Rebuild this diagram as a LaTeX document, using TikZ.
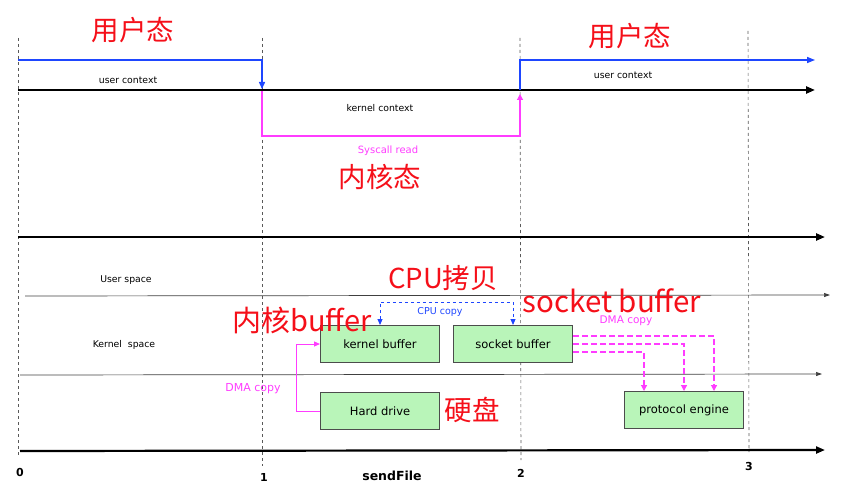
\documentclass[tikz,border=0pt]{standalone}
\usepackage{fontspec}
\setmainfont{DejaVu Sans}
\newfontfamily\cjk{Noto Sans CJK SC}
\usetikzlibrary{arrows.meta, positioning}
\definecolor{notered}{RGB}{245, 15, 25}
\definecolor{noteblue}{RGB}{30, 70, 255}
\definecolor{notemagenta}{RGB}{255, 60, 255}
\definecolor{boxgreen}{RGB}{185, 245, 185}

\begin{document}
\begin{tikzpicture}[x=1pt, y=-1pt,
        redlabel/.style={text=notered, font=\cjk\fontsize{27.5}{27.5}\selectfont},
        smalltext/.style={font=\fontsize{9.3}{9.3}\selectfont},
        timeaxis/.style={line width=2.2pt, -{Triangle[length=9pt, width=7pt]}},
        spaceaxis/.style={line width=0.7pt, black!75, -{Triangle[length=6pt, width=4pt]}},
        tickline/.style={dashed, black!65, line width=0.6pt},
        buf/.style={draw=black!70, line width=1pt, fill=boxgreen, minimum width=119pt,
            minimum height=37pt, font=\fontsize{11.5}{11.5}\selectfont}]
    \useasboundingbox (0,0) rectangle (850,497);

    % time ticks
    \coordinate (t0top) at (18,38);   \coordinate (t0bot) at (18,455);
    \coordinate (t1top) at (262,38);  \coordinate (t1bot) at (262,466);
    \coordinate (t2top) at (520,38);  \coordinate (t2bot) at (521,460);
    \coordinate (t3top) at (748,31);  \coordinate (t3bot) at (749,452);
    \foreach \t in {0,1,2,3}
        \draw[tickline] (t\t top) -- (t\t bot);
    \node[font=\bfseries\fontsize{11}{11}\selectfont] (n0) at (20,472) {0};
    \node[font=\bfseries\fontsize{11}{11}\selectfont] (n1) at (264,477) {1};
    \node[font=\bfseries\fontsize{11}{11}\selectfont] (n2) at (521,473) {2};
    \node[font=\bfseries\fontsize{11}{11}\selectfont] (n3) at (749,466) {3};
    \node[font=\bfseries\fontsize{12.5}{12.5}\selectfont] (send) at (392,476) {sendFile};

    % context switches
    \coordinate (ctxstart) at (18,90);
    \coordinate (ctxend) at (815,90);
    \draw[timeaxis] (ctxstart) -- (ctxend);
    \coordinate (ustart) at (18,60);
    \coordinate (uend) at (815,60);
    \coordinate (sys) at (262,89);
    \coordinate (ret) at (520,90);
    \draw[noteblue, line width=1.4pt, -{Triangle[length=7pt, width=6pt]}]
        (ustart) -| (sys);
    \draw[noteblue, line width=1.4pt, -{Triangle[length=8pt, width=6pt]}]
        (ret) |- (uend);
    \draw[notemagenta, line width=1.2pt, -{Triangle[length=6pt, width=6pt]}]
        (262,91) -- (262,136) -| (520,94);

    \node[smalltext] (uctx1) at (128,80) {user context};
    \node[smalltext] (uctx2) at (623,75) {user context};
    \node[smalltext] (kctx) at (380,108) {kernel context};
    \node[font=\fontsize{10}{10}\selectfont, text=notemagenta] (sysread) at (388,151) {Syscall read};
    \node[redlabel] (ustate1) at (133,30) {用户态};
    \node[redlabel] (ustate2) at (630,36) {用户态};
    \node[redlabel] (kstate) at (380,177) {内核态};

    % address spaces
    \coordinate (a1s) at (18,237);  \coordinate (a1e) at (825,237);
    \coordinate (a2s) at (25,296);  \coordinate (a2e) at (830,295);
    \coordinate (a3s) at (20,375);  \coordinate (a3e) at (822,374);
    \coordinate (a4s) at (20,451);  \coordinate (a4e) at (825,450);
    \draw[timeaxis] (a1s) -- (a1e);
    \draw[spaceaxis] (a2s) -- (a2e);
    \draw[spaceaxis] (a3s) -- (a3e);
    \draw[timeaxis] (a4s) -- (a4e);
    \node[smalltext] (uspace) at (126,280) {User space};
    \node[smalltext] (kspace) at (124,345) {Kernel\ \ space};

    % buffers
    \node[buf] (kb) at (380,344) {kernel buffer};
    \node[buf] (sb) at (513,344) {socket buffer};
    \node[buf] (hd) at (380,411) {Hard drive};
    \node[buf] (pe) at (684,410) {protocol engine};

    % DMA copy into kernel buffer
    \draw[notemagenta, line width=1pt, -{Triangle[length=6pt, width=5pt]}]
        (hd.west) -- ++(-24,0) |- (kb.west);
    \node[font=\fontsize{11}{11}\selectfont, text=notemagenta] (dma1) at (253,389) {DMA copy};

    % CPU copy
    \draw[noteblue, dashed, line width=0.9pt, {Triangle[length=6pt, width=5pt]}-{Triangle[length=6pt, width=5pt]}]
        (kb.north) -- ++(0,-23) -| (sb.north);
    \node[font=\fontsize{9.5}{9.5}\selectfont, text=noteblue] (cpu) at (440,312) {CPU copy};

    % DMA copy to protocol engine
    \foreach \dy/\dx in {8/30, 0/0, -8/-40}
        \draw[notemagenta, dash pattern=on 6pt off 3pt, line width=1.2pt, -{Triangle[length=6pt, width=6pt]}]
            ([yshift=\dy pt]sb.east) -| ([xshift=\dx pt]pe.north);
    \node[font=\fontsize{10.5}{10.5}\selectfont, text=notemagenta] (dma2) at (626,321) {DMA copy};

    % red notes
    \node[redlabel] (cpunote) at (443,278) {CPU拷贝};
    \node[redlabel, font=\cjk\fontsize{29.5}{29.5}\selectfont] (sbnote) at (612,301) {socket buffer};
    \node[redlabel, font=\cjk\fontsize{29}{29}\selectfont] (kbnote) at (302,320) {内核buffer};
    \node[redlabel] (hdnote) at (472,410) {硬盘};
\end{tikzpicture}
\end{document}
